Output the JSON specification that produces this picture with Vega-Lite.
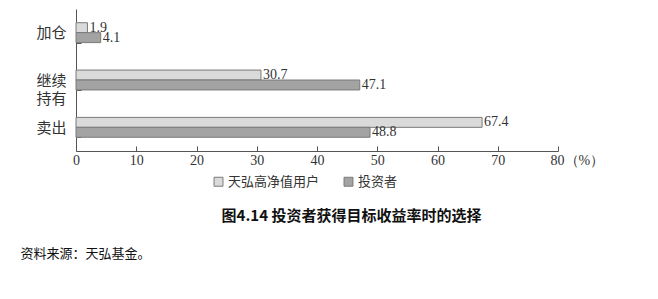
{
  "$schema": "https://vega.github.io/schema/vega-lite/v6.json",
  "width": 482,
  "height": 142,
  "autosize": {"type": "none"},
  "padding": {"left": 76, "top": 9, "right": 100, "bottom": 148},
  "background": "white",
  "config": {"view": {"stroke": null}},
  "data": {
    "values": [
      {"choice": "加仓", "group": "天弘高净值用户", "value": 1.9},
      {"choice": "加仓", "group": "投资者", "value": 4.1},
      {"choice": "继续持有", "group": "天弘高净值用户", "value": 30.7},
      {"choice": "继续持有", "group": "投资者", "value": 47.1},
      {"choice": "卖出", "group": "天弘高净值用户", "value": 67.4},
      {"choice": "卖出", "group": "投资者", "value": 48.8}
    ]
  },
  "encoding": {
    "y": {
      "field": "choice",
      "type": "nominal",
      "sort": ["加仓", "继续持有", "卖出"],
      "scale": {"paddingInner": 0.58, "paddingOuter": 0.29},
      "axis": {
        "title": "资料来源：天弘基金。",
        "titleAngle": 0,
        "titleX": -56,
        "titleY": 244,
        "titleAlign": "left",
        "titleBaseline": "middle",
        "titleFont": "Noto Sans CJK SC",
        "titleFontWeight": "normal",
        "titleFontSize": 13,
        "titleColor": "#111",
        "grid": false,
        "tickBand": "extent",
        "tickSize": -5,
        "tickColor": "#555",
        "domainColor": "#555",
        "labelFont": "Noto Sans CJK SC",
        "labelFontSize": 15,
        "labelColor": "#333",
        "labelPadding": 15,
        "labelLineHeight": 18,
        "labelExpr": "datum.label == '继续持有' ? ['继续', '持有'] : datum.label"
      }
    },
    "yOffset": {"field": "group", "sort": ["天弘高净值用户", "投资者"]},
    "x": {
      "field": "value",
      "type": "quantitative",
      "scale": {"domain": [0, 80]},
      "axis": {
        "values": [0, 10, 20, 30, 40, 50, 60, 70, 80],
        "grid": false,
        "tickSize": -5,
        "tickColor": "#555",
        "domainColor": "#555",
        "labelFont": "Liberation Serif",
        "labelFontSize": 14,
        "labelColor": "#333",
        "labelPadding": 7,
        "labelExpr": "datum.value == 80 ? '80（%）' : datum.label",
        "labelAlign": {"condition": {"test": "datum.value == 80", "value": "left"}, "value": "center"},
        "labelOffset": {"condition": {"test": "datum.value == 80", "value": -8}, "value": 0},
        "title": "图4.14 投资者获得目标收益率时的选择",
        "titleFont": "Noto Sans CJK SC",
        "titleFontWeight": "bold",
        "titleFontSize": 15,
        "titleColor": "#111",
        "titleX": 275,
        "titleY": 64,
        "titleAlign": "center",
        "titleBaseline": "middle"
      }
    }
  },
  "layer": [
    {
      "mark": {"type": "bar", "stroke": "#7a7a7a", "strokeWidth": 1},
      "encoding": {
        "color": {
          "field": "group",
          "type": "nominal",
          "scale": {"domain": ["天弘高净值用户", "投资者"], "range": ["#dadada", "#a3a3a3"]},
          "legend": {
            "title": null,
            "orient": "none",
            "direction": "horizontal",
            "legendX": 136,
            "legendY": 166,
            "symbolType": "square",
            "symbolSize": 80,
            "symbolStrokeColor": "#7a7a7a",
            "symbolStrokeWidth": 1,
            "labelFont": "Noto Sans CJK SC",
            "labelFontSize": 13,
            "labelColor": "#333",
            "labelOffset": 3,
            "columnPadding": 22
          }
        }
      }
    },
    {
      "mark": {"type": "text", "align": "left", "baseline": "middle", "dx": 2, "font": "Liberation Serif", "fontSize": 14, "color": "#333"},
      "encoding": {"text": {"field": "value", "type": "quantitative", "format": ".1f"}}
    }
  ]
}
